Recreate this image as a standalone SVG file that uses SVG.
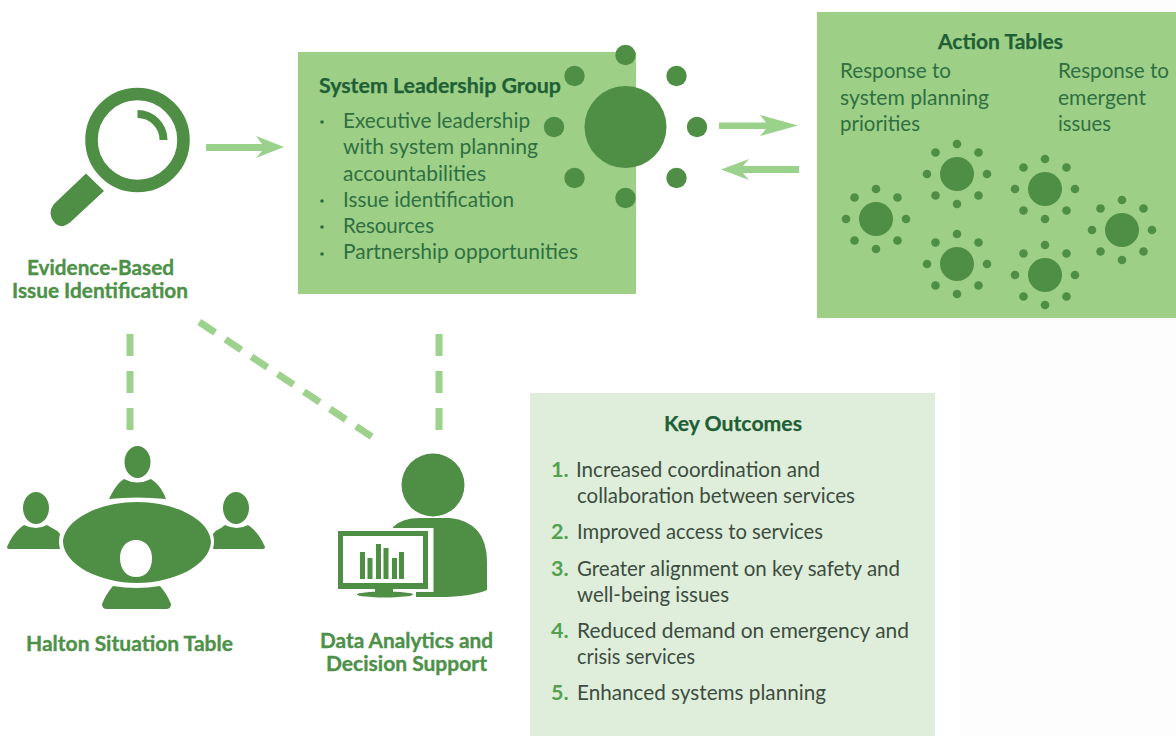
<svg xmlns="http://www.w3.org/2000/svg" width="1176" height="736" viewBox="0 0 1176 736">
<style>
text{font-family:Lato,"Open Sans","Liberation Sans",sans-serif}
.ic{fill:#4f8e45}
.box{fill:#9dcf87}
.ttl{font-size:21.500px;font-weight:700;fill:#1f5f35;stroke:#1f5f35;stroke-width:.25}
.bd{font-size:21.500px;fill:#2f6f40}
.lab{font-size:20px;font-weight:700;fill:#4d9148;stroke:#4d9148;stroke-width:.35}
.num{font-size:21.500px;font-weight:700;fill:#53a04e}
.kt{font-size:21.500px;fill:#3c4c40}
.dash{fill:none;stroke:#9cd28c;stroke-width:7}
.arr{fill:#9ad28b}
.bul{fill:#2a6a3c}
</style>
<defs>
<g id="sun">
<circle class="ic" r="17"/>
<g class="ic">
<circle cy="-30" r="4.300"/><circle cy="30" r="4.300"/><circle cx="-30" r="4.300"/><circle cx="30" r="4.300"/>
<circle cx="-21.500" cy="-21.500" r="4.300"/><circle cx="21.500" cy="-21.500" r="4.300"/><circle cx="-21.500" cy="21.500" r="4.300"/><circle cx="21.500" cy="21.500" r="4.300"/>
</g>
</g>
</defs>
<rect width="1176" height="736" fill="#ffffff"/>
<rect x="960" width="216" height="736" fill="#fdfdfd"/>

<g id="connectors">
<path class="arr" d="M206 144H262L256 136L284 147L256 158L262 151H206Z"/>
<path class="arr" d="M719 122.500H766L760 115L798 125.500L760 136L766 129H719Z"/>
<path class="arr" d="M799 166H743L749 159L721 169.500L749 180L743 173H799Z"/>
<path class="dash" stroke-dasharray="22 15" d="M130 334V430"/>
<path class="dash" stroke-dasharray="22 15" d="M439 334V430"/>
<path class="dash" stroke-dasharray="19 12.400" d="M199.300 322L371.700 436.700"/>
</g>

<g id="evidence-node">
<circle cx="137.500" cy="140" r="46" fill="none" stroke="#4f8e45" stroke-width="12.500"/>
<path d="M137.500 114A26 26 0 0 1 163.500 140" fill="none" stroke="#4f8e45" stroke-width="8"/>
<path class="ic" d="M86 173.500L104 191L70 222.500Q60 230 54 222Q47 213 54 204Z"/>
<text class="lab" x="27" y="275" textLength="147" lengthAdjust="spacingAndGlyphs">Evidence-Based</text>
<text class="lab" x="12" y="297.500" textLength="176" lengthAdjust="spacingAndGlyphs">Issue Identification</text>
</g>

<g id="system-leadership-node">
<rect class="box" x="298" y="52" width="338" height="242"/>
<text class="ttl" x="319" y="92.500" textLength="242" lengthAdjust="spacingAndGlyphs">System Leadership Group</text>
<g class="bul">
<circle cx="322" cy="122" r="1.800"/><circle cx="322" cy="201" r="1.800"/><circle cx="322" cy="227" r="1.800"/><circle cx="322" cy="254" r="1.800"/>
</g>
<text class="bd" x="343" y="128" textLength="187" lengthAdjust="spacingAndGlyphs">Executive leadership</text>
<text class="bd" x="343" y="154" textLength="195" lengthAdjust="spacingAndGlyphs">with system planning</text>
<text class="bd" x="343" y="181" textLength="143" lengthAdjust="spacingAndGlyphs">accountabilities</text>
<text class="bd" x="343" y="207" textLength="171" lengthAdjust="spacingAndGlyphs">Issue identification</text>
<text class="bd" x="343" y="233" textLength="91" lengthAdjust="spacingAndGlyphs">Resources</text>
<text class="bd" x="343" y="259" textLength="235" lengthAdjust="spacingAndGlyphs">Partnership opportunities</text>
<g class="ic">
<circle cx="625.500" cy="127" r="41"/>
<circle cx="625.500" cy="55" r="10.200"/><circle cx="574.500" cy="76" r="10.200"/><circle cx="676.500" cy="76" r="10.200"/>
<circle cx="554" cy="127" r="10.200"/><circle cx="697" cy="127" r="10.200"/>
<circle cx="574.500" cy="178" r="10.200"/><circle cx="676.500" cy="178" r="10.200"/><circle cx="625.500" cy="198" r="10.200"/>
</g>
</g>

<g id="action-tables-node">
<rect class="box" x="817" y="12" width="359" height="306"/>
<text class="ttl" x="938" y="48.500" textLength="125" lengthAdjust="spacingAndGlyphs">Action Tables</text>
<text class="bd" x="840" y="78" textLength="111" lengthAdjust="spacingAndGlyphs">Response to</text>
<text class="bd" x="840" y="105" textLength="149" lengthAdjust="spacingAndGlyphs">system planning</text>
<text class="bd" x="840" y="131" textLength="80" lengthAdjust="spacingAndGlyphs">priorities</text>
<text class="bd" x="1058" y="78" textLength="111" lengthAdjust="spacingAndGlyphs">Response to</text>
<text class="bd" x="1058" y="105" textLength="88" lengthAdjust="spacingAndGlyphs">emergent</text>
<text class="bd" x="1058" y="131" textLength="53" lengthAdjust="spacingAndGlyphs">issues</text>
<use href="#sun" x="876" y="219"/>
<use href="#sun" x="957" y="174"/>
<use href="#sun" x="957" y="264"/>
<use href="#sun" x="1045" y="189"/>
<use href="#sun" x="1045" y="275"/>
<use href="#sun" x="1122" y="230"/>
</g>

<g id="situation-table-node">
<g class="ic">
<ellipse cx="137.500" cy="462" rx="13" ry="16"/>
<path d="M109 499Q114 488 120 482L124 479Q137 486 151 479L155 482Q162 488 166 499Q137 496 109 499Z"/>
<ellipse cx="36" cy="508" rx="13" ry="16"/>
<path d="M7 547Q12 535 20 528L24 525Q36 531 47 525L52 528Q57 530 60 534Q58 542 60 549L10 549Q7 549 7 547Z"/>
<ellipse cx="236" cy="508" rx="13" ry="16"/>
<path d="M213 534Q216 530 221 528L225 525Q237 531 248 525L252 528Q260 535 265 547Q265 549 262 549L213 549Q215 542 213 534Z"/>
<path fill-rule="evenodd" d="M63 542C64 519 100 502 137 502C174 502 210 519 211 542C210 565 174 583 137 583C100 583 64 565 63 542ZM136 540C126 540 120 548 120 558C120 570 127 577 136 577C146 577 152 570 152 558C152 548 146 540 136 540Z"/>
<path d="M113 586Q136 590 160 586Q167 594 171 604Q171 609 166 609H107Q102 609 102 604Q106 594 113 586Z"/>
</g>
<text class="lab" x="26" y="651" textLength="207" lengthAdjust="spacingAndGlyphs">Halton Situation Table</text>
</g>

<g id="data-analytics-node">
<circle class="ic" cx="433" cy="485" r="31.500"/>
<path class="ic" d="M393 527Q402 518 420 518H450Q487 522 487 562V590Q470 597 440 597H416V530H393Z"/>
<rect x="335" y="528" width="98.500" height="64" fill="#ffffff"/>
<rect class="ic" x="338" y="531" width="90" height="58"/>
<rect x="343" y="536" width="80" height="47" fill="#ffffff"/>
<g class="ic">
<rect x="360" y="552" width="5" height="27"/>
<rect x="367.500" y="558" width="5" height="21"/>
<rect x="376" y="544" width="5" height="35"/>
<rect x="383.500" y="548" width="5" height="31"/>
<rect x="392" y="558" width="5" height="21"/>
<rect x="399" y="552" width="5" height="27"/>
<rect x="375" y="588" width="18" height="5"/>
<ellipse cx="385" cy="594.500" rx="28" ry="3"/>
</g>
<text class="lab" x="320" y="648" textLength="173" lengthAdjust="spacingAndGlyphs">Data Analytics and</text>
<text class="lab" x="326" y="670.500" textLength="161" lengthAdjust="spacingAndGlyphs">Decision Support</text>
</g>

<g id="key-outcomes-node">
<rect x="530" y="393" width="405" height="343" fill="#dfeeda"/>
<text class="ttl" x="664" y="430.500" textLength="138" lengthAdjust="spacingAndGlyphs">Key Outcomes</text>
<text class="num" x="551" y="477">1.</text>
<text class="kt" x="576" y="477" textLength="244" lengthAdjust="spacingAndGlyphs">Increased coordination and</text>
<text class="kt" x="577" y="503" textLength="278" lengthAdjust="spacingAndGlyphs">collaboration between services</text>
<text class="num" x="551" y="539">2.</text>
<text class="kt" x="577" y="539" textLength="246" lengthAdjust="spacingAndGlyphs">Improved access to services</text>
<text class="num" x="551" y="576">3.</text>
<text class="kt" x="577" y="576" textLength="323" lengthAdjust="spacingAndGlyphs">Greater alignment on key safety and</text>
<text class="kt" x="577" y="602" textLength="152" lengthAdjust="spacingAndGlyphs">well-being issues</text>
<text class="num" x="551" y="638">4.</text>
<text class="kt" x="577" y="638" textLength="332" lengthAdjust="spacingAndGlyphs">Reduced demand on emergency and</text>
<text class="kt" x="577" y="664" textLength="118" lengthAdjust="spacingAndGlyphs">crisis services</text>
<text class="num" x="551" y="700">5.</text>
<text class="kt" x="577" y="700" textLength="249" lengthAdjust="spacingAndGlyphs">Enhanced systems planning</text>
</g>
</svg>
